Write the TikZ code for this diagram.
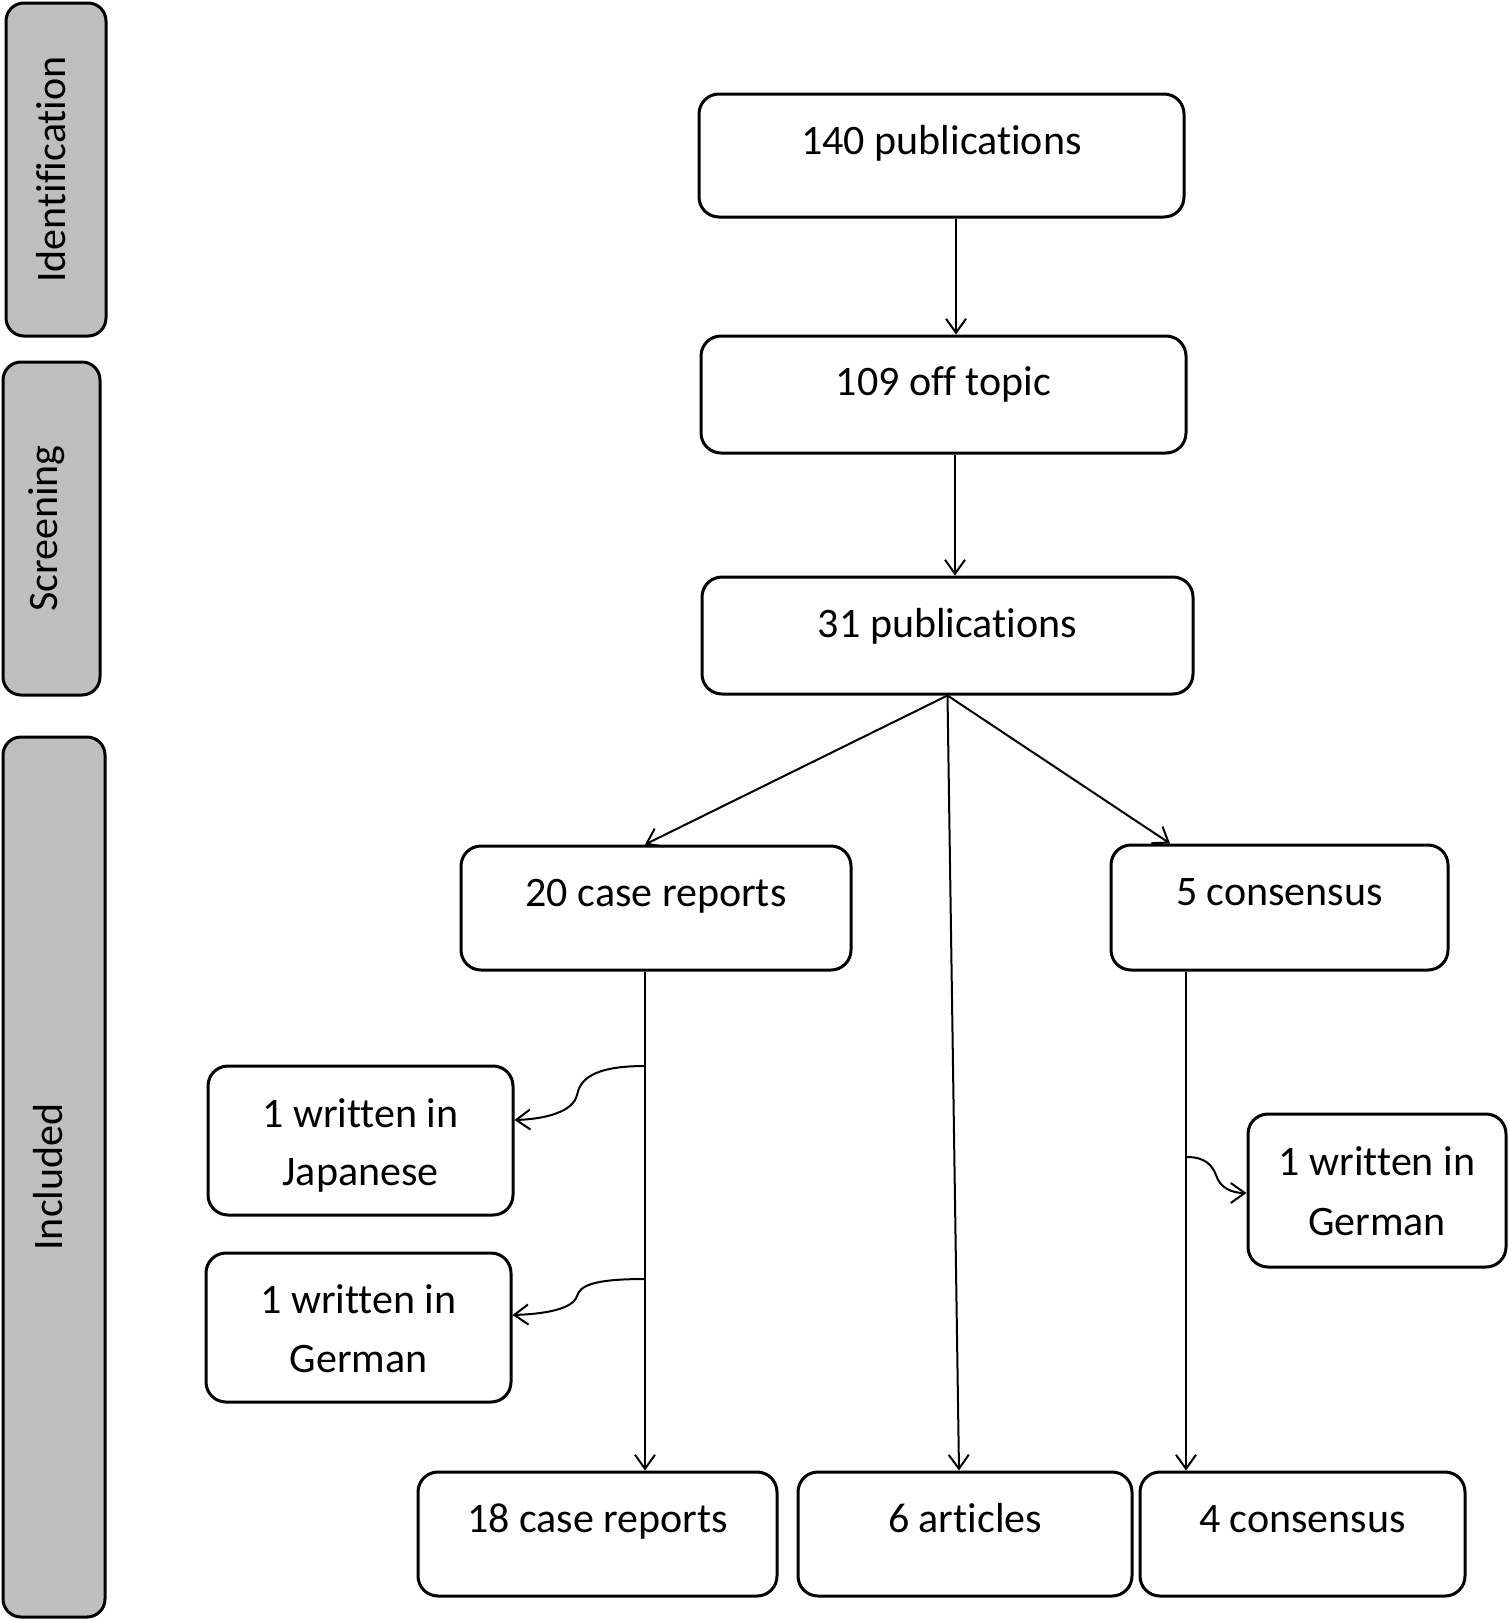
\documentclass[tikz,border=0pt]{standalone}
\usepackage{fontspec}
\setmainfont{Carlito}[RawFeature={-liga;-clig;-calt;-dlig}]
\usetikzlibrary{arrows.meta}
\definecolor{sidegray}{HTML}{BFBFBF}
\begin{document}
\begin{tikzpicture}[x=1pt,y=-1pt,
  box/.style={draw=black, line width=3pt, rounded corners=20pt, inner sep=0pt, fill=white},
  side/.style={draw=black, line width=3pt, rounded corners=18pt, inner sep=0pt, fill=sidegray},
  txt/.style={font=\fontsize{42}{50}\selectfont, anchor=base, inner sep=0pt},
  sidetxt/.style={font=\fontsize{42}{50}\selectfont, rotate=90, inner sep=0pt},
  conn/.style={line width=2pt, -{Straight Barb[length=14pt,width=20pt,line width=2pt]}}
]
\useasboundingbox (0,0) rectangle (1509,1620);

% side boxes
\node[side, minimum width=100pt, minimum height=333pt] (sId) at (56,169.5) {};
\node[side, minimum width=97pt, minimum height=333pt] (sSc) at (51.5,528.5) {};
\node[side, minimum width=102pt, minimum height=880pt] (sIn) at (54,1177) {};
\node[sidetxt] (tId) at (51,169.5) {Identification};
\node[sidetxt] (tSc) at (47,528.5) {Screening};
\node[sidetxt] (tIn) at (48,1177) {Included};

% main boxes
\node[box, minimum width=485pt, minimum height=123pt] (n140) at (941.5,155.5) {};
\node[box, minimum width=485pt, minimum height=117pt] (n109) at (943.5,394.5) {};
\node[box, minimum width=491pt, minimum height=117pt] (n31) at (947.5,635.5) {};
\node[box, minimum width=390pt, minimum height=124pt] (n20) at (656,908) {};
\node[box, minimum width=337pt, minimum height=125pt] (n5) at (1279.5,907.5) {};
\node[box, minimum width=305pt, minimum height=149pt] (nJap) at (360.5,1140.5) {};
\node[box, minimum width=305pt, minimum height=149pt] (nGerL) at (358.5,1327.5) {};
\node[box, minimum width=258pt, minimum height=153pt] (nGerR) at (1377,1190.5) {};
\node[box, minimum width=359pt, minimum height=124pt] (n18) at (597.5,1534) {};
\node[box, minimum width=334pt, minimum height=124pt] (n6) at (965,1534) {};
\node[box, minimum width=325pt, minimum height=124pt] (n4) at (1302.5,1534) {};

% texts
\node[txt] at (n140.center |- 0,154) {140 publications};
\node[txt] at (n109.center |- 0,395) {109 off topic};
\node[txt] at (n31.center |- 0,637) {31 publications};
\node[txt] at (n20.center |- 0,906) {20 case reports};
\node[txt] at (n5.center |- 0,905) {5 consensus};
\node[txt] at (nJap.center |- 0,1127) {1 written in};
\node[txt] at (nJap.center |- 0,1185) {Japanese};
\node[txt] at (nGerL.center |- 0,1313) {1 written in};
\node[txt] at (nGerL.center |- 0,1372) {German};
\node[txt] at (nGerR.center |- 0,1175) {1 written in};
\node[txt] at (nGerR.center |- 0,1235) {German};
\node[txt] at (n18.center |- 0,1532) {18 case reports};
\node[txt] at (n6.center |- 0,1532) {6 articles};
\node[txt] at (n4.center |- 0,1532) {4 consensus};

% connectors
\draw[conn] ([xshift=14.5pt]n140.south) -- ([xshift=12.5pt]n109.north);
\draw[conn] ([xshift=11.5pt]n109.south) -- ([xshift=7.5pt]n31.north);
\draw[conn] (n31.south) -- ([xshift=-11pt]n20.north);
\draw[conn] (n31.south) -- ([xshift=-6pt]n6.north);
\draw[conn] (n31.south) -- ([xshift=-109.5pt]n5.north);
\draw[conn] ([xshift=-11pt]n20.south) -- ([xshift=47.5pt]n18.north);
\draw[conn] ([xshift=-93.5pt]n5.south) -- ([xshift=-116.5pt]n4.north);

% curly side connectors
\coordinate (cJ) at (645,1066);
\coordinate (cG) at (645,1279);
\coordinate (cR) at (1187,1157);
\draw[conn] (cJ) .. controls (592,1066) and (580,1080) .. (577,1095)
  .. controls (573,1112) and (545,1119) .. (nJap.east |- 0,1120);
\draw[conn] (cG) .. controls (592,1279) and (580,1286) .. (577,1296)
  .. controls (573,1309) and (545,1314) .. (nGerL.east |- 0,1315);
\draw[conn] (cR) .. controls (1205,1157) and (1212,1165) .. (1216,1175)
  .. controls (1220,1188) and (1232,1193) .. (nGerR.west |- 0,1193);
\end{tikzpicture}
\end{document}
